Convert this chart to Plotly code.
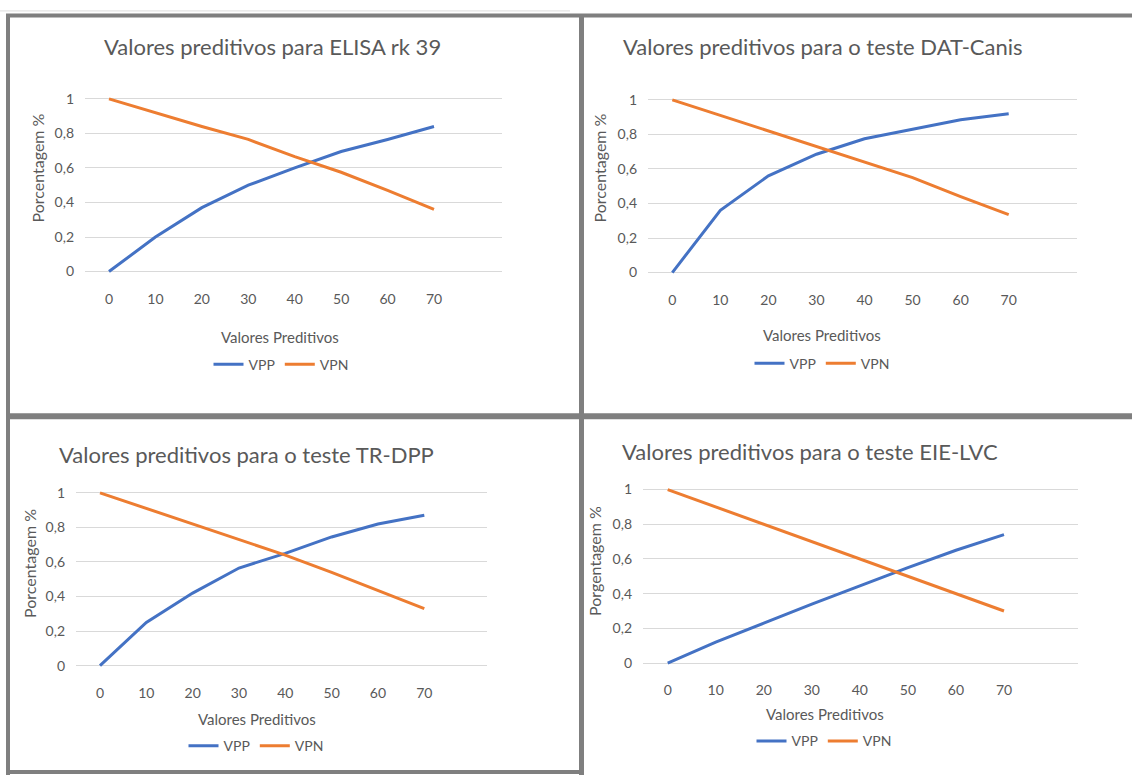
import plotly.graph_objects as go

W, H = 1132, 778

# Prevalência (%) no eixo das categorias
prevalencia = [0, 10, 20, 30, 40, 50, 60, 70]

titulos = [
    "Valores preditivos para ELISA rk 39",
    "Valores preditivos para o teste DAT-Canis",
    "Valores preditivos para o teste TR-DPP",
    "Valores preditivos para o teste EIE-LVC",
]
titulos_y = ["Porcentagem %", "Porcentagem %", "Porcentagem %", "Porgentagem %"]
titulo_x = "Valores Preditivos"

vpp_elisa = [0, 0.20, 0.37, 0.50, 0.60, 0.695, 0.765, 0.84]
vpn_elisa = [1, 0.92, 0.84, 0.765, 0.665, 0.575, 0.47, 0.36]

vpp_dat = [0, 0.36, 0.56, 0.685, 0.775, 0.83, 0.885, 0.92]
vpn_dat = [1, 0.91, 0.82, 0.73, 0.64, 0.55, 0.44, 0.335]

vpp_trdpp = [0, 0.25, 0.42, 0.565, 0.65, 0.745, 0.82, 0.87]
vpn_trdpp = [1, 0.91, 0.82, 0.73, 0.64, 0.54, 0.435, 0.33]

vpp_eie = [0, 0.12, 0.23, 0.34, 0.445, 0.55, 0.65, 0.74]
vpn_eie = [1, 0.90, 0.80, 0.70, 0.60, 0.50, 0.40, 0.30]

series = [
    (vpp_elisa, vpn_elisa),
    (vpp_dat, vpn_dat),
    (vpp_trdpp, vpn_trdpp),
    (vpp_eie, vpn_eie),
]

AZUL = "#4472C4"
LARANJA = "#ED7D31"
TEXTO = "#595959"
GRADE = "#D9D9D9"
MOLDURA = "#7F7F7F"
FONTE = "Lato"

# Geometria de cada painel em pixels:
# (x do 0, x do 70, início da grade, fim da grade, y do 0, y do 1)
paineis = [
    (109.0, 434.0, 85.0, 502.0, 270.0, 95.7),
    (672.3, 1008.7, 648.0, 1077.0, 271.0, 96.7),
    (100.0, 424.3, 76.0, 487.0, 667.7, 493.3),
    (667.7, 1004.0, 643.0, 1078.0, 665.0, 490.0),
]
# (centro x do título, y do título, centro x do eixo x, y do título x,
#  x do título y, y do título y, centro x da legenda, y da legenda)
textos = [
    (272, 43, 280, 336, 38, 166, 281, 364),
    (823, 43, 822, 334, 600, 166, 822, 363),
    (246, 455, 257, 721, 30, 565, 256, 749),
    (810, 452, 825, 716, 595, 562, 824, 744),
]


def px(x):
    return x / W


def py(y):
    return 1 - y / H


fig = go.Figure()
layout = {}
annotations = []

for i, ((vpp, vpn), geo, txt) in enumerate(zip(series, paineis, textos), start=1):
    x0, x70, gl, gr, y0, y1 = geo
    k = (x70 - x0) / 70.0
    xr = [(gl - x0) / k, (gr - x0) / k]
    s = y0 - y1
    pad = 0.03
    ybot = y0 + pad * s
    ytop = y1 - pad * s

    leg = "legend" if i == 1 else f"legend{i}"
    xa = "x" if i == 1 else f"x{i}"
    ya = "y" if i == 1 else f"y{i}"

    fig.add_trace(go.Scatter(
        x=prevalencia, y=vpp, mode="lines", name="VPP",
        line=dict(color=AZUL, width=3), xaxis=xa, yaxis=ya, legend=leg,
    ))
    fig.add_trace(go.Scatter(
        x=prevalencia, y=vpn, mode="lines", name="VPN",
        line=dict(color=LARANJA, width=3), xaxis=xa, yaxis=ya, legend=leg,
    ))

    xkey = "xaxis" if i == 1 else f"xaxis{i}"
    ykey = "yaxis" if i == 1 else f"yaxis{i}"
    layout[xkey] = dict(
        domain=[px(gl), px(gr)], range=xr, anchor=ya,
        tickvals=prevalencia, showgrid=False, zeroline=False, showline=False,
        ticks="", ticklabelstandoff=12,
        tickfont=dict(family=FONTE, size=14, color=TEXTO),
    )
    layout[ykey] = dict(
        domain=[py(ybot), py(ytop)], range=[-pad, 1 + pad], anchor=xa,
        tickvals=[0, 0.2, 0.4, 0.6, 0.8, 1],
        showgrid=True, gridcolor=GRADE, gridwidth=1,
        zeroline=False, showline=False, ticks="", ticklabelstandoff=10,
        tickfont=dict(family=FONTE, size=14, color=TEXTO),
    )

    tx, ty, ax_x, ax_y, yt_x, yt_y, lx, ly = txt
    annotations.append(dict(
        text=titulos[i - 1], x=px(tx), y=py(ty), xref="paper", yref="paper",
        showarrow=False, xanchor="center", yanchor="middle",
        font=dict(family=FONTE, size=22, color=TEXTO),
    ))
    annotations.append(dict(
        text=titulo_x, x=px(ax_x), y=py(ax_y), xref="paper", yref="paper",
        showarrow=False, xanchor="center", yanchor="middle",
        font=dict(family=FONTE, size=15, color=TEXTO),
    ))
    annotations.append(dict(
        text=titulos_y[i - 1], x=px(yt_x), y=py(yt_y), xref="paper", yref="paper",
        showarrow=False, xanchor="center", yanchor="middle", textangle=-90,
        font=dict(family=FONTE, size=16, color=TEXTO),
    ))
    layout[leg] = dict(
        orientation="h", x=px(lx), y=py(ly), xanchor="center", yanchor="middle",
        font=dict(family=FONTE, size=14, color=TEXTO),
        bgcolor="rgba(0,0,0,0)", itemwidth=30, tracegroupgap=0,
    )

# Molduras cinzentas entre os quatro gráficos
moldura = dict(color=MOLDURA, width=4)
shapes = [
    dict(type="line", xref="paper", yref="paper", x0=px(0), x1=px(570), y0=py(7), y1=py(7),
         line=dict(color="#DDDDDD", width=1)),
    dict(type="line", xref="paper", yref="paper", x0=px(6), x1=px(W), y0=py(11.5), y1=py(11.5),
         line=moldura),
    dict(type="line", xref="paper", yref="paper", x0=px(8), x1=px(8), y0=py(10), y1=py(H),
         line=moldura),
    dict(type="line", xref="paper", yref="paper", x0=px(581.5), x1=px(581.5), y0=py(10), y1=py(H),
         line=dict(color=MOLDURA, width=5)),
    dict(type="line", xref="paper", yref="paper", x0=px(6), x1=px(W), y0=py(416), y1=py(416),
         line=dict(color=MOLDURA, width=6)),
    dict(type="line", xref="paper", yref="paper", x0=px(6), x1=px(583), y0=py(775), y1=py(775),
         line=moldura),
]

fig.update_layout(
    width=W, height=H,
    margin=dict(l=0, r=0, t=0, b=0),
    paper_bgcolor="white", plot_bgcolor="white",
    separators=",.",
    showlegend=True,
    annotations=annotations,
    shapes=shapes,
    **layout,
)

fig.write_html("out.html")
